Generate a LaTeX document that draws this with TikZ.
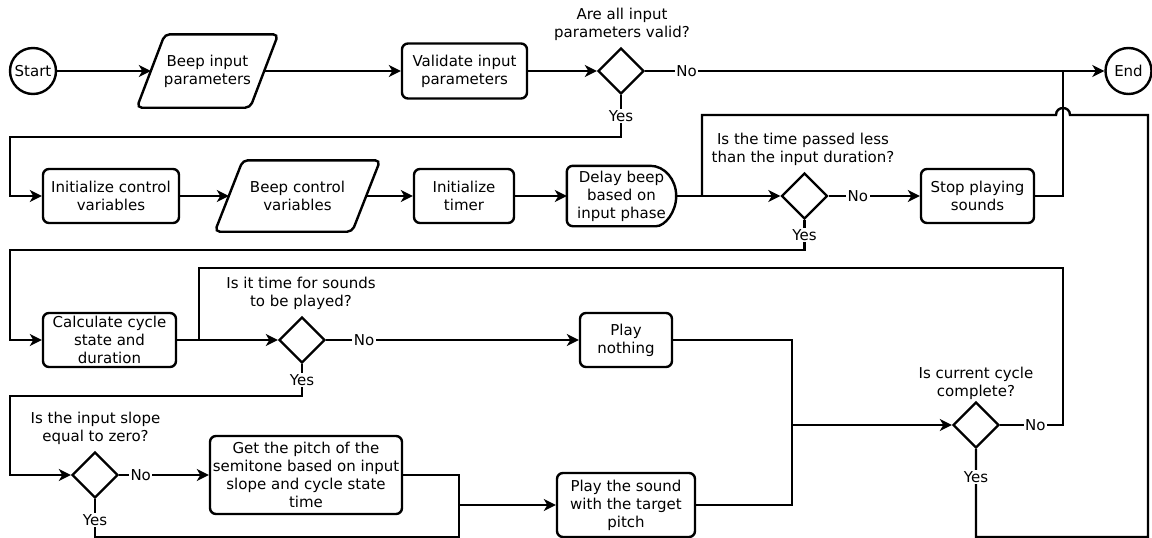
\documentclass[tikz,border=0pt]{standalone}
\usepackage{fontspec}
\setmainfont{DejaVu Sans}
\usetikzlibrary{arrows.meta,shapes.geometric,calc}

\begin{document}
\begin{tikzpicture}[x=1pt,y=-1pt,
  every node/.style={font=\fontsize{15}{18}\selectfont, text=black},
  flow/.style={line width=2.4pt},
  arr/.style={flow, -{Stealth[length=12pt,width=12pt,inset=3.5pt]}},
  proc/.style={draw, line width=2.4pt, rounded corners=6pt, align=center, inner sep=0pt},
  term/.style={draw, circle, line width=2.4pt, minimum size=46pt, inner sep=0pt},
  dia/.style={draw, diamond, line width=2.4pt, minimum width=46pt, minimum height=46pt, inner sep=0pt},
  ghost/.style={align=center, inner sep=0pt},
  outline/.style={line width=2.4pt, rounded corners=5pt},
  lbl/.style={fill=white, inner sep=1.5pt},
  q/.style={align=center, inner sep=0pt},
]
\useasboundingbox (0,0) rectangle (1152,538);

% ---- first row ----
\node[term] (start) at (33,71) {Start};
\node[ghost, minimum width=141pt, minimum height=73pt] (inp) at (207.5,71) {Beep input\\parameters};
\draw[outline] ([xshift=28pt]inp.north west) -- (inp.north east) -- ([xshift=-28pt]inp.south east) -- (inp.south west) -- cycle;
\node[proc, minimum width=125pt, minimum height=55pt] (val) at (464.5,71) {Validate input\\parameters};
\node[dia] (d1) at (621,71) {};
\node[q] at (622,24) {Are all input\\parameters valid?};
\node[term] (endn) at (1128.5,71) {End};

% ---- second row ----
\node[proc, minimum width=136pt, minimum height=54pt] (ictl) at (111,196) {Initialize control\\variables};
\node[ghost, minimum width=165pt, minimum height=71pt] (cvar) at (297.5,196) {Beep control\\variables};
\draw[outline] ([xshift=28pt]cvar.north west) -- (cvar.north east) -- ([xshift=-28pt]cvar.south east) -- (cvar.south west) -- cycle;
\node[proc, minimum width=100pt, minimum height=54pt] (timer) at (464,196) {Initialize\\timer};
\node[ghost, minimum width=109pt, minimum height=60pt] (delay) at (621.5,196) {Delay beep\\based on\\input phase};
\draw[line width=2.4pt, rounded corners=6pt]
  ($(delay.north east)+(-26pt,0)$) -- (delay.north west) -- (delay.south west)
  -- ($(delay.south east)+(-26pt,0)$) [sharp corners]
  .. controls ($(delay.south east)+(-11.6pt,0)$) and ($(delay.east)+(0,-16.6pt)$) .. (delay.east)
  .. controls ($(delay.east)+(0,16.6pt)$) and ($(delay.north east)+(-11.6pt,0)$) .. ($(delay.north east)+(-26pt,0)$) -- cycle;
\node[dia] (d2) at (804.5,196) {};
\node[q] at (803,149) {Is the time passed less\\than the input duration?};
\node[proc, minimum width=113pt, minimum height=54pt] (stop) at (977.5,196) {Stop playing\\sounds};

% ---- third row ----
\node[proc, minimum width=133pt, minimum height=54pt] (calc) at (109.5,340) {Calculate cycle\\state and\\duration};
\node[dia] (d3) at (302,340) {};
\node[q] at (301,293.5) {Is it time for sounds\\to be played?};
\node[proc, minimum width=92pt, minimum height=54pt] (nothing) at (626,340) {Play\\nothing};
\node[dia] (d4) at (976,425) {};
\node[q] at (976,383) {Is current cycle\\complete?};

% ---- fourth row ----
\node[dia] (d5) at (95,475) {};
\node[q] at (95.5,428) {Is the input slope\\equal to zero?};
\node[proc, minimum width=192pt, minimum height=78pt] (pitch) at (306,475) {Get the pitch of the\\semitone based on input\\slope and cycle state\\time};
\node[proc, minimum width=138pt, minimum height=64pt] (play) at (626,505) {Play the sound\\with the target\\pitch};

% ---- connectors ----
\draw[arr] (start.east) -- ($(inp.west)+(14pt,0)$);
\draw[arr] ($(inp.east)+(-14pt,0)$) -- (val.west);
\draw[arr] (val.east) -- (d1.west);
\draw[arr] (d1.east) -- node[lbl,pos=0.09]{No} (endn.west);
\draw[arr] (d1.south) -- node[lbl]{Yes} (621,137) -| (10,196) -- (ictl.west);

\draw[arr] (ictl.east) -- ($(cvar.west)+(14pt,0)$);
\draw[arr] ($(cvar.east)+(-14pt,0)$) -- (timer.west);
\draw[arr] (timer.east) -- (delay.west);
\draw[arr] (delay.east) -- (d2.west);
\draw[arr] (d2.east) -- node[lbl,pos=0.32]{No} (stop.west);
\draw[flow] (stop.east) -| (1063,71);
\draw[arr] (d2.south) -- node[lbl]{Yes} (804.5,250) -| (10,340) -- (calc.west);

\draw[arr] (calc.east) -- (d3.west);
\draw[arr] (d3.east) -- node[lbl,pos=0.15]{No} (nothing.west);
\draw[arr] (nothing.east) -| (792,425) -- (d4.west);
\draw[flow] (play.east) -| (792,425);
\draw[flow] (d4.east) -- node[lbl,pos=0.56]{No} (1063,425) |- (199,268) -- (199,340);
\draw[flow] (d4.south) -- node[lbl,pos=0.32]{Yes} (976,537) -| (1148,115) -- (1070,115)
  .. controls (1070,105.7) and (1056,105.7) .. (1056,115) -- (702,115) -- (702,196);
\draw[arr] (d3.south) -- node[lbl]{Yes} (302,396) -| (10,475) -- (d5.west);

\draw[arr] (d5.east) -- node[lbl,pos=0.24]{No} (pitch.west);
\draw[arr] (pitch.east) -| (459,505) -- (play.west);
\draw[flow] (d5.south) -- node[lbl,pos=0.55]{Yes} (95,537) -| (459,505);
\end{tikzpicture}
\end{document}
